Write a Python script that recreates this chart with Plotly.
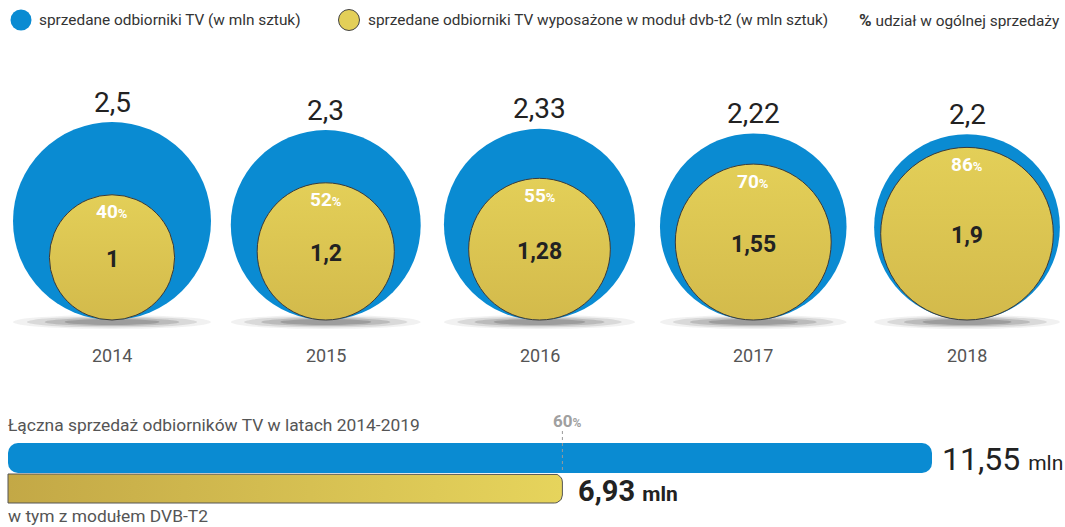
import numpy as np
import plotly.graph_objects as go

# ---------------- data ----------------
years = ['2014', '2015', '2016', '2017', '2018']
total_sales = [2.5, 2.3, 2.33, 2.22, 2.2]          # mln units
dvb_sales = [1, 1.2, 1.28, 1.55, 1.9]              # mln units with DVB-T2
dvb_share = [40, 52, 55, 70, 86]                   # % share
sum_total = 11.55
sum_dvb = 6.93
sum_share = 60

legend_labels = ['sprzedane odbiorniki TV (w mln sztuk)',
                 'sprzedane odbiorniki TV wyposażone w moduł dvb-t2 (w mln sztuk)',
                 'udział w ogólnej sprzedaży']
bar_title = 'Łączna sprzedaż odbiorników TV w latach 2014-2019'
bar_subtitle = 'w tym z modułem DVB-T2'

# ---------------- style / layout constants ----------------
W, H = 1065, 527
BLUE = '#0a8bd2'
YELLOW = '#e3cf58'
YELLOW_DARK = '#d3ba4b'
FONT = 'Roboto'
TXT = '#222222'
GREY = '#555555'

max_d = 198.0            # px diameter of the largest circle
x_first, x_step = 112.0, 213.75
bottom = 320.0

def fmt(v):
    return f"{v:g}".replace('.', ',')

cx = [x_first + i * x_step for i in range(len(years))]
d_tot = [max_d * np.sqrt(v / max(total_sales)) for v in total_sales]
d_dvb = [max_d * np.sqrt(v / max(total_sales)) for v in dvb_sales]
cy_tot = [bottom - d / 2 for d in d_tot]
cy_dvb = [bottom - d / 2 for d in d_dvb]

fig = go.Figure()

# shadows under circles
shapes = []
for x, d in zip(cx, d_tot):
    for wf, h, op in [(1.0, 14, 0.07), (0.86, 11, 0.12), (0.68, 8, 0.18), (0.48, 6, 0.22)]:
        shapes.append(dict(type='circle', xref='x', yref='y', layer='below',
                           x0=x - d * wf / 2, x1=x + d * wf / 2,
                           y0=bottom + 2 - h / 2, y1=bottom + 2 + h / 2,
                           fillcolor='#333333', opacity=op, line=dict(width=0)))

# big blue circles
fig.add_trace(go.Scatter(x=cx, y=cy_tot, mode='markers', hoverinfo='skip',
                         marker=dict(size=d_tot, color=BLUE, line=dict(width=0),
                                     opacity=1)))
# yellow circles
fig.add_trace(go.Scatter(x=cx, y=cy_dvb, mode='markers', hoverinfo='skip',
                         marker=dict(size=d_dvb, color=YELLOW,
                                     gradient=dict(type='vertical', color=YELLOW_DARK),
                                     line=dict(width=1, color='#3a3a3a'), opacity=1)))

annotations = []
for i in range(len(years)):
    # total label above circle
    annotations.append(dict(x=cx[i], y=cy_tot[i] - d_tot[i] / 2 - 20, xref='x', yref='y',
                            text=fmt(total_sales[i]), showarrow=False,
                            font=dict(family=FONT, size=28, color=TXT)))
    # share label
    annotations.append(dict(x=cx[i], y=cy_dvb[i] - d_dvb[i] / 2 + 17, xref='x', yref='y',
                            text=f"<b>{dvb_share[i]}</b><b><span style='font-size:13px'>%</span></b>",
                            showarrow=False,
                            font=dict(family=FONT, size=19, color='white')))
    # dvb value label
    annotations.append(dict(x=cx[i], y=cy_dvb[i] + 2, xref='x', yref='y',
                            text=f"<b>{fmt(dvb_sales[i])}</b>", showarrow=False,
                            font=dict(family=FONT, size=23, color=TXT)))
    # year
    annotations.append(dict(x=cx[i], y=355, xref='x', yref='y', text=years[i],
                            showarrow=False, font=dict(family=FONT, size=18, color=GREY)))

# legend (custom)
fig.add_trace(go.Scatter(x=[21, 349], y=[20, 20], mode='markers', hoverinfo='skip',
                         marker=dict(size=[21, 21], color=[BLUE, YELLOW], opacity=1,
                                     line=dict(width=[0, 1], color='#444'))))
annotations.append(dict(x=37, y=20, xref='x', yref='y', xanchor='left', text=legend_labels[0],
                        showarrow=False, font=dict(family=FONT, size=15.4, color='#333')))
annotations.append(dict(x=366, y=20, xref='x', yref='y', xanchor='left', text=legend_labels[1],
                        showarrow=False, font=dict(family=FONT, size=15.4, color='#333')))
annotations.append(dict(x=857, y=20, xref='x', yref='y', xanchor='left',
                        text="<b><span style='font-size:17px'>%</span></b> " + legend_labels[2],
                        showarrow=False, font=dict(family=FONT, size=15.4, color='#333')))

# ---------------- bottom bars ----------------
base = 8.0
scale = 80.0   # px per mln
L_tot = sum_total * scale
L_dvb = sum_dvb * scale

fig.add_trace(go.Bar(orientation='h', y=[458], x=[L_tot], base=[base], width=[30],
                     marker=dict(color=BLUE, line=dict(width=0), cornerradius=10),
                     hoverinfo='skip'))

# yellow bar with gradient (rounded right end)
y0, y1, r = 474.0, 503.0, 8.0
xe = base + L_dvb
t1 = np.linspace(-np.pi / 2, 0, 10)
t2 = np.linspace(0, np.pi / 2, 10)
px = ([base] + list(xe - r + r * np.cos(t1)) + list(xe - r + r * np.cos(t2)) + [base, base])
py = ([y0] + list(y0 + r + r * np.sin(t1)) + list(y1 - r + r * np.sin(t2)) + [y1, y0])
fig.add_trace(go.Scatter(x=px, y=py, mode='lines', fill='toself', hoverinfo='skip',
                         line=dict(color='#555', width=1),
                         fillgradient=dict(type='horizontal',
                                           colorscale=[[0, '#c3a846'], [1, '#e6d45c']])))

# 60% marker
x60 = base + sum_share / 100 * L_tot
shapes.append(dict(type='line', xref='x', yref='y', x0=x60, x1=x60, y0=431, y1=472,
                   line=dict(color='#9a9a9a', width=1, dash='dot')))
annotations.append(dict(x=x60 + 5, y=421, xref='x', yref='y',
                        text=f"<b>{sum_share}</b><b><span style='font-size:12px'>%</span></b>",
                        showarrow=False, font=dict(family=FONT, size=17, color='#a0a0a0')))

annotations.append(dict(x=base + L_tot + 8, y=459, xref='x', yref='y', xanchor='left',
                        text=f"{fmt(sum_total)} <span style='font-size:21px'>mln</span>",
                        showarrow=False, font=dict(family=FONT, size=32, color=TXT)))
annotations.append(dict(x=base + L_dvb + 14, y=491, xref='x', yref='y', xanchor='left',
                        text=f"<b>{fmt(sum_dvb)}</b> <b><span style='font-size:21px'>mln</span></b>",
                        showarrow=False, font=dict(family=FONT, size=29, color=TXT)))

annotations.append(dict(x=6, y=425, xref='x', yref='y', xanchor='left', text=bar_title,
                        showarrow=False, font=dict(family=FONT, size=17.4, color=GREY)))
annotations.append(dict(x=6, y=516, xref='x', yref='y', xanchor='left', text=bar_subtitle,
                        showarrow=False, font=dict(family=FONT, size=17.4, color=GREY)))

fig.update_layout(width=W, height=H, margin=dict(l=0, r=0, t=0, b=0),
                  paper_bgcolor='white', plot_bgcolor='white', showlegend=False,
                  shapes=shapes, annotations=annotations,
                  xaxis=dict(range=[0, W], visible=False, fixedrange=True),
                  yaxis=dict(range=[H, 0], visible=False, fixedrange=True))

fig.write_html('out.html', config=dict(displayModeBar=False))
